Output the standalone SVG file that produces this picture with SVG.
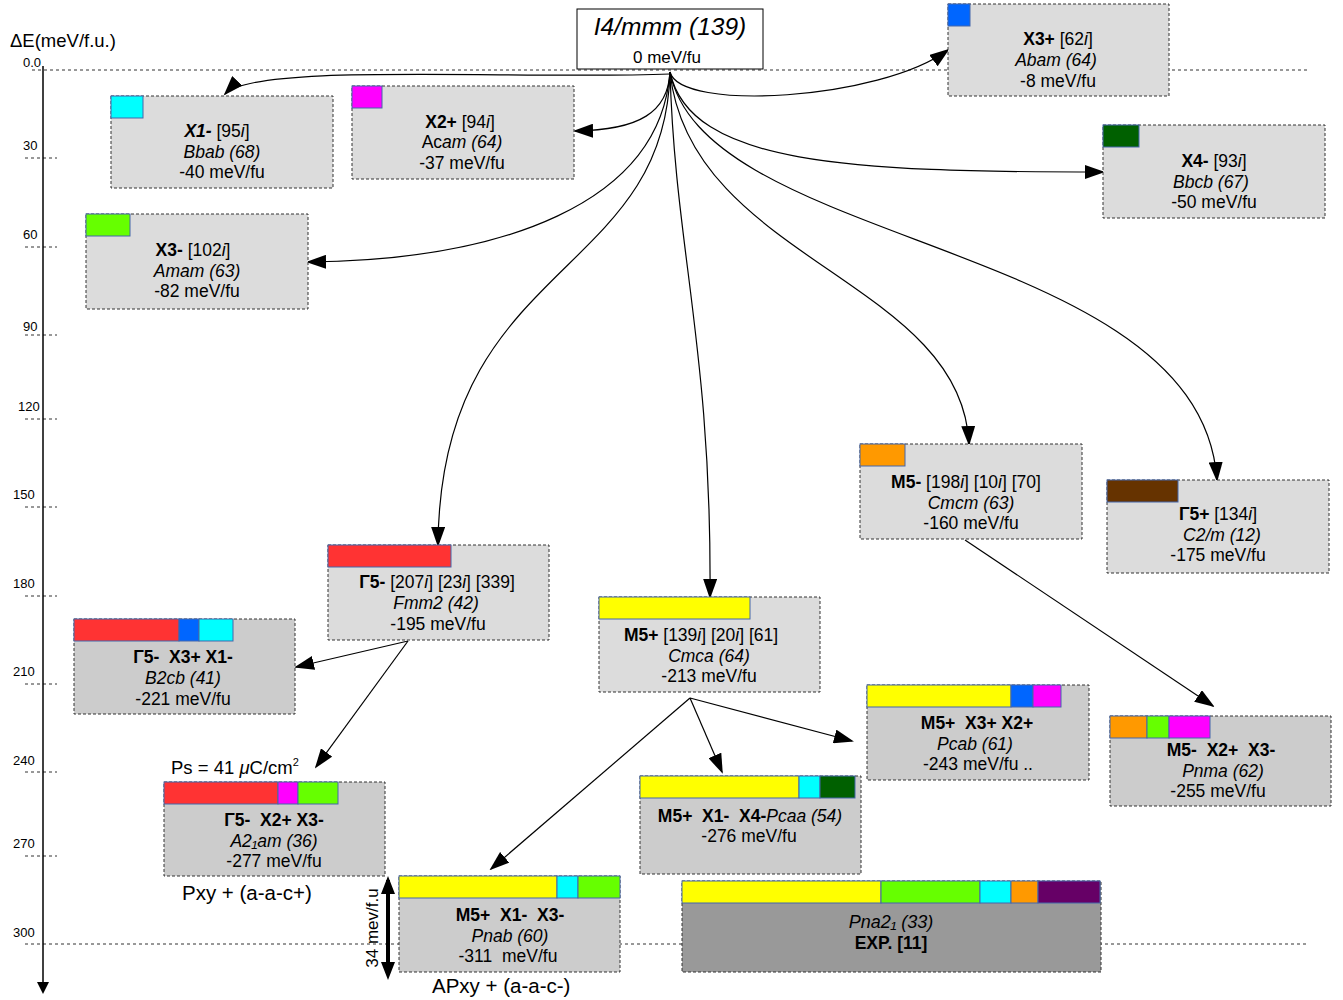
<svg xmlns="http://www.w3.org/2000/svg" width="1343" height="1000" viewBox="0 0 1343 1000">
<defs>
<style>
text{font-family:"Liberation Sans",Arial,sans-serif;fill:#000}
.n{fill:#dcdcdc;stroke:#333;stroke-width:1;stroke-dasharray:3,2}
.d{fill:#cccccc;stroke:#333;stroke-width:1;stroke-dasharray:3,2}
.e{fill:#999999;stroke:#333;stroke-width:1;stroke-dasharray:3,2}
.s{stroke:#4466aa;stroke-width:1}
.t{font-size:17.5px;text-anchor:middle}
.ax{font-size:13px}
.grid{stroke:#333;stroke-width:1;stroke-dasharray:3,3;fill:none}
.c{fill:none;stroke:#000;stroke-width:1.2}
.b{font-weight:bold}
.i{font-style:italic}
</style>
<marker id="ar" markerWidth="20" markerHeight="14" refX="18" refY="7" orient="auto" markerUnits="userSpaceOnUse">
<path d="M0,0 L20,7 L0,14 Z" fill="#000"/>
</marker>
<marker id="ax" markerWidth="12" markerHeight="12" refX="10" refY="6" orient="auto" markerUnits="userSpaceOnUse">
<path d="M0,0 L12,6 L0,12 Z" fill="#000"/>
</marker>
</defs>

<g id="axis">
<text x="10" y="47" style="font-size:18.5px">ΔE(meV/f.u.)</text>
<line x1="32" y1="70" x2="1307" y2="70" class="grid"/>
<line x1="25" y1="944" x2="1307" y2="944" class="grid"/>
<g class="grid">
<line x1="25" y1="158" x2="57" y2="158"/>
<line x1="25" y1="247" x2="57" y2="247"/>
<line x1="25" y1="335" x2="57" y2="335"/>
<line x1="25" y1="419" x2="57" y2="419"/>
<line x1="25" y1="507" x2="57" y2="507"/>
<line x1="25" y1="596" x2="57" y2="596"/>
<line x1="25" y1="684" x2="57" y2="684"/>
<line x1="25" y1="772" x2="57" y2="772"/>
<line x1="25" y1="856" x2="57" y2="856"/>
</g>
<line x1="43" y1="66" x2="43" y2="992" stroke="#000" stroke-width="1.5" marker-end="url(#ax)"/>
<text x="23" y="67" class="ax">0.0</text>
<text x="23" y="150" class="ax">30</text>
<text x="23" y="239" class="ax">60</text>
<text x="23" y="331" class="ax">90</text>
<text x="18" y="411" class="ax">120</text>
<text x="13" y="499" class="ax">150</text>
<text x="13" y="588" class="ax">180</text>
<text x="13" y="676" class="ax">210</text>
<text x="13" y="765" class="ax">240</text>
<text x="13" y="848" class="ax">270</text>
<text x="13" y="937" class="ax">300</text>
</g>

<g id="connectors">
<path class="c" marker-end="url(#ar)" d="M670,74 C520,80 255,62 225,94"/>
<path class="c" marker-end="url(#ar)" d="M670,72 C680,112 880,100 948,50"/>
<path class="c" marker-end="url(#ar)" d="M670,72 C668,112 640,130 575,131"/>
<path class="c" marker-end="url(#ar)" d="M670,72 C690,165 850,172 1103,172"/>
<path class="c" marker-end="url(#ar)" d="M670,72 C660,205 500,260 308,262"/>
<path class="c" marker-end="url(#ar)" d="M670,72 C665,280 440,260 438,545"/>
<path class="c" marker-end="url(#ar)" d="M670,72 C675,250 712,350 710,597"/>
<path class="c" marker-end="url(#ar)" d="M670,72 C690,260 962,280 969,444"/>
<path class="c" marker-end="url(#ar)" d="M670,72 C705,250 1200,240 1217,480"/>
<path class="c" marker-end="url(#ar)" d="M408,641 L296,667"/>
<path class="c" marker-end="url(#ar)" d="M408,641 L316,767"/>
<path class="c" marker-end="url(#ar)" d="M690,698 L491,869"/>
<path class="c" marker-end="url(#ar)" d="M690,698 L722,772"/>
<path class="c" marker-end="url(#ar)" d="M690,698 L852,741"/>
<path class="c" marker-end="url(#ar)" d="M965,540 L1213,706"/>
<line x1="388" y1="880" x2="388" y2="975" stroke="#000" stroke-width="4"/>
<path d="M388,876 L381,894 L395,894 Z M388,980 L381,962 L395,962 Z" fill="#000"/>
</g>

<g id="n-i4mmm">
<rect x="577" y="9" width="186" height="60" fill="#fff" stroke="#000" stroke-width="1"/>
<text x="670" y="35" class="i" style="font-size:24.5px;text-anchor:middle">I4/mmm (139)</text>
<text x="667" y="63" class="t" style="font-size:17px">0 meV/fu</text>
</g>

<g id="n-abam">
<rect x="948" y="4" width="221" height="92" class="n"/>
<rect x="948" y="4" width="22" height="22" fill="#0066ff" class="s"/>
<text x="1058" y="45" class="t"><tspan class="b">X3+</tspan> [62<tspan class="i">i</tspan>]</text>
<text x="1056" y="66" class="t i">Abam (64)</text>
<text x="1058" y="87" class="t">-8 meV/fu</text>
</g>

<g id="n-bbab">
<rect x="111" y="96" width="222" height="92" class="n"/>
<rect x="111" y="96" width="32" height="22" fill="#00ffff" class="s"/>
<text x="217" y="137" class="t"><tspan class="b i">X1-</tspan> [95<tspan class="i">i</tspan>]</text>
<text x="222" y="158" class="t i">Bbab (68)</text>
<text x="222" y="178" class="t">-40 meV/fu</text>
</g>

<g id="n-acam">
<rect x="352" y="86" width="222" height="93" class="n"/>
<rect x="352" y="86" width="30" height="22" fill="#ff00ff" class="s"/>
<text x="460" y="128" class="t"><tspan class="b">X2+</tspan> [94<tspan class="i">i</tspan>]</text>
<text x="462" y="148" class="t">Ac<tspan class="i">am (64)</tspan></text>
<text x="462" y="169" class="t">-37 meV/fu</text>
</g>

<g id="n-bbcb">
<rect x="1103" y="125" width="222" height="93" class="n"/>
<rect x="1103" y="125" width="36" height="22" fill="#006000" class="s"/>
<text x="1214" y="167" class="t"><tspan class="b">X4-</tspan> [93<tspan class="i">i</tspan>]</text>
<text x="1211" y="188" class="t i">Bbcb (67)</text>
<text x="1214" y="208" class="t">-50 meV/fu</text>
</g>

<g id="n-amam">
<rect x="86" y="214" width="222" height="95" class="n"/>
<rect x="86" y="214" width="44" height="22" fill="#66ff00" class="s"/>
<text x="193" y="256" class="t"><tspan class="b">X3-</tspan> [102<tspan class="i">i</tspan>]</text>
<text x="197" y="277" class="t i">Amam (63)</text>
<text x="197" y="297" class="t">-82 meV/fu</text>
</g>

<g id="n-cmcm">
<rect x="860" y="444" width="222" height="95" class="n"/>
<rect x="860" y="444" width="45" height="22" fill="#ff9900" class="s"/>
<text x="966" y="488" class="t"><tspan class="b">M5-</tspan> [198<tspan class="i">i</tspan>] [10<tspan class="i">i</tspan>] [70]</text>
<text x="971" y="509" class="t i">Cmcm (63)</text>
<text x="971" y="529" class="t">-160 meV/fu</text>
</g>

<g id="n-c2m">
<rect x="1107" y="480" width="222" height="93" class="n"/>
<rect x="1107" y="480" width="71" height="22" fill="#663300" class="s"/>
<text x="1218" y="520" class="t"><tspan class="b">Γ5+</tspan> [134<tspan class="i">i</tspan>]</text>
<text x="1222" y="541" class="t i">C2/m (12)</text>
<text x="1218" y="561" class="t">-175 meV/fu</text>
</g>

<g id="n-fmm2">
<rect x="328" y="545" width="221" height="95" class="n"/>
<rect x="328" y="545" width="123" height="22" fill="#ff3333" class="s"/>
<text x="437" y="588" class="t"><tspan class="b">Γ5-</tspan> [207<tspan class="i">i</tspan>] [23<tspan class="i">i</tspan>] [339]</text>
<text x="436" y="609" class="t i">Fmm2 (42)</text>
<text x="438" y="630" class="t">-195 meV/fu</text>
</g>

<g id="n-cmca">
<rect x="599" y="597" width="221" height="95" class="n"/>
<rect x="599" y="597" width="151" height="22" fill="#ffff00" class="s"/>
<text x="701" y="641" class="t"><tspan class="b">M5+</tspan> [139<tspan class="i">i</tspan>] [20<tspan class="i">i</tspan>] [61]</text>
<text x="709" y="662" class="t i">Cmca (64)</text>
<text x="709" y="682" class="t">-213 meV/fu</text>
</g>

<g id="n-b2cb">
<rect x="74" y="619" width="221" height="95" class="d"/>
<rect x="74" y="619" width="105" height="22" fill="#ff3333" class="s"/>
<rect x="179" y="619" width="20" height="22" fill="#0066ff" class="s"/>
<rect x="199" y="619" width="34" height="22" fill="#00ffff" class="s"/>
<text x="183" y="663" class="t b">Γ5-&#160; X3+ X1-</text>
<text x="183" y="684" class="t i">B2cb (41)</text>
<text x="183" y="705" class="t">-221 meV/fu</text>
</g>

<g id="n-pcab">
<rect x="867" y="685" width="222" height="95" class="d"/>
<rect x="867" y="685" width="144" height="22" fill="#ffff00" class="s"/>
<rect x="1011" y="685" width="22" height="22" fill="#0066ff" class="s"/>
<rect x="1033" y="685" width="28" height="22" fill="#ff00ff" class="s"/>
<text x="977" y="729" class="t b">M5+&#160; X3+ X2+</text>
<text x="975" y="750" class="t i">Pcab (61)</text>
<text x="978" y="770" class="t">-243 meV/fu ..</text>
</g>

<g id="n-pnma">
<rect x="1110" y="716" width="221" height="90" class="d"/>
<rect x="1110" y="716" width="37" height="22" fill="#ff9900" class="s"/>
<rect x="1147" y="716" width="22" height="22" fill="#66ff00" class="s"/>
<rect x="1169" y="716" width="41" height="22" fill="#ff00ff" class="s"/>
<text x="1221" y="756" class="t b">M5-&#160; X2+&#160; X3-</text>
<text x="1223" y="777" class="t i">Pnma (62)</text>
<text x="1218" y="797" class="t">-255 meV/fu</text>
</g>

<g id="n-pcaa">
<rect x="640" y="776" width="221" height="98" class="d"/>
<rect x="640" y="776" width="159" height="22" fill="#ffff00" class="s"/>
<rect x="799" y="776" width="21" height="22" fill="#00ffff" class="s"/>
<rect x="820" y="776" width="35" height="22" fill="#006000" class="s"/>
<text x="750" y="822" class="t"><tspan class="b">M5+&#160; X1-&#160; X4-</tspan><tspan class="i">Pcaa (54)</tspan></text>
<text x="749" y="842" class="t">-276 meV/fu</text>
</g>

<g id="n-a21am">
<rect x="164" y="782" width="221" height="94" class="d"/>
<rect x="164" y="782" width="114" height="22" fill="#ff3333" class="s"/>
<rect x="278" y="782" width="20" height="22" fill="#ff00ff" class="s"/>
<rect x="298" y="782" width="40" height="22" fill="#66ff00" class="s"/>
<text x="274" y="826" class="t b">Γ5-&#160; X2+ X3-</text>
<text x="274" y="847" class="t i">A2₁am (36)</text>
<text x="274" y="867" class="t">-277 meV/fu</text>
</g>

<g id="n-pnab">
<rect x="399" y="876" width="221" height="96" class="d"/>
<rect x="399" y="876" width="158" height="22" fill="#ffff00" class="s"/>
<rect x="557" y="876" width="21" height="22" fill="#00ffff" class="s"/>
<rect x="578" y="876" width="42" height="22" fill="#66ff00" class="s"/>
<text x="510" y="921" class="t b">M5+&#160; X1-&#160; X3-</text>
<text x="510" y="942" class="t i">Pnab (60)</text>
<text x="508" y="962" class="t">-311&#160; meV/fu</text>
</g>

<g id="n-pna21">
<rect x="682" y="881" width="419" height="91" class="e"/>
<rect x="682" y="881" width="199" height="22" fill="#ffff00" class="s"/>
<rect x="881" y="881" width="99" height="22" fill="#66ff00" class="s"/>
<rect x="980" y="881" width="31" height="22" fill="#00ffff" class="s"/>
<rect x="1011" y="881" width="27" height="22" fill="#ff9900" class="s"/>
<rect x="1038" y="881" width="62" height="22" fill="#660066" class="s"/>
<text x="891" y="928" class="t i" style="font-size:18px">Pna2₁ (33)</text>
<text x="891" y="949" class="t b">EXP. [11]</text>
</g>

<g id="labels">
<text x="171" y="774" style="font-size:18.5px">Ps = 41 <tspan class="i">μ</tspan>C/cm<tspan dy="-8" style="font-size:11px">2</tspan></text>
<text x="182" y="900" style="font-size:20.5px">Pxy + (a-a-c+)</text>
<text x="432" y="993" style="font-size:20.5px">APxy + (a-a-c-)</text>
<text transform="translate(378,928) rotate(-90)" style="font-size:17px;text-anchor:middle">34 mev/f.u</text>
</g>
</svg>
